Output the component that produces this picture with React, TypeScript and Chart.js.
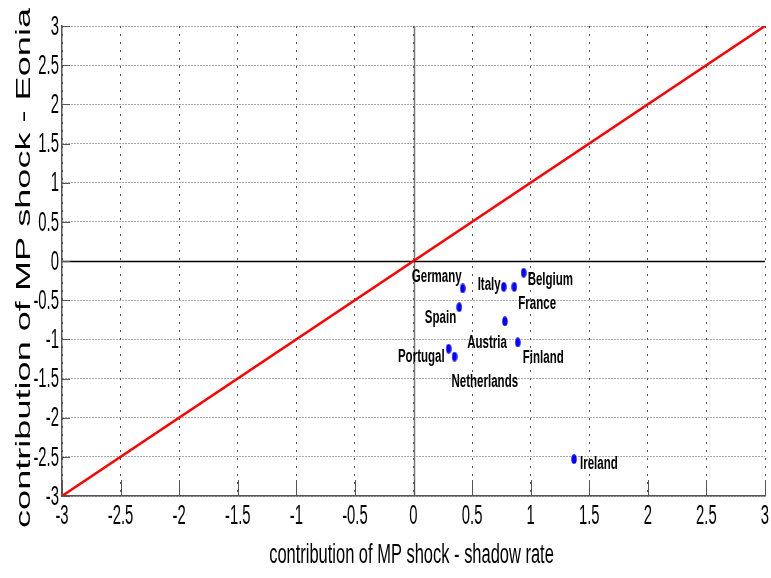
import { useEffect, useRef } from "react";
import { Chart, registerables } from "chart.js";

Chart.register(...registerables);

// ---- data ----
const countries = ["Germany", "Italy", "France", "Belgium", "Spain", "Austria", "Finland", "Portugal", "Netherlands", "Ireland"];
const shadowRate = [0.42, 0.77, 0.86, 0.94, 0.39, 0.78, 0.89, 0.3, 0.35, 1.37];
const eonia = [-0.35, -0.33, -0.33, -0.15, -0.59, -0.77, -1.04, -1.12, -1.22, -2.53];
const tickValues = [-3, -2.5, -2, -1.5, -1, -0.5, 0, 0.5, 1, 1.5, 2, 2.5, 3];
const tickLabels = ["-3", "-2.5", "-2", "-1.5", "-1", "-0.5", "0", "0.5", "1", "1.5", "2", "2.5", "3"];
const refLine = [-3, 3];
const xTitle = "contribution of MP shock - shadow rate";
const yTitle = "contribution of MP shock - Eonia";

// ---- label placement (pixel offsets from the point; layout only) ----
const labelPlacement: Record<string, [CanvasTextAlign, number, number]> = {
  Germany: ["right", -1, -6],
  Italy: ["right", -3, 3],
  France: ["left", 4, 22],
  Belgium: ["left", 4, 12],
  Spain: ["right", -3, 16],
  Austria: ["right", 2, 27],
  Finland: ["left", 5, 21],
  Portugal: ["right", -4, 13],
  Netherlands: ["left", -3, 30],
  Ireland: ["left", 6, 10],
};

const FONT = "'Liberation Sans', Arial, Helvetica, sans-serif";
const AXIS_COLOR = "#555555";

function makeDot(): HTMLCanvasElement {
  const c = document.createElement("canvas");
  c.width = 6;
  c.height = 10;
  const g = c.getContext("2d")!;
  g.fillStyle = "#0000ff";
  g.beginPath();
  g.ellipse(3, 5, 2.7, 4.7, 0, 0, Math.PI * 2);
  g.fill();
  return c;
}

function drawScaledText(
  ctx: CanvasRenderingContext2D,
  text: string,
  x: number,
  y: number,
  sx: number,
  align: CanvasTextAlign,
  baseline: CanvasTextBaseline
) {
  ctx.save();
  ctx.translate(x, y);
  ctx.scale(sx, 1);
  ctx.textAlign = align;
  ctx.textBaseline = baseline;
  ctx.fillText(text, 0, 0);
  ctx.restore();
}

const decorPlugin = {
  id: "decor",
  beforeDatasetsDraw(chart: any) {
    const { ctx, chartArea, scales } = chart;
    const xs = scales.x;
    const ys = scales.y;
    ctx.save();
    // zero lines
    const x0 = Math.round(xs.getPixelForValue(0)) + 0.5;
    const y0 = Math.round(ys.getPixelForValue(0)) + 0.5;
    ctx.lineWidth = 1.5;
    ctx.strokeStyle = "#777777";
    ctx.beginPath();
    ctx.moveTo(x0, chartArea.top);
    ctx.lineTo(x0, chartArea.bottom);
    ctx.stroke();
    ctx.strokeStyle = "#000000";
    ctx.beginPath();
    ctx.moveTo(chartArea.left, y0);
    ctx.lineTo(chartArea.right, y0);
    ctx.stroke();
    // tick marks (inward)
    ctx.strokeStyle = AXIS_COLOR;
    ctx.lineWidth = 1;
    tickValues.forEach((v) => {
      const px = Math.round(xs.getPixelForValue(v)) + 0.5;
      ctx.beginPath();
      ctx.moveTo(px, chartArea.bottom);
      ctx.lineTo(px, chartArea.bottom - 16);
      ctx.stroke();
      const py = Math.round(ys.getPixelForValue(v)) + 0.5;
      ctx.beginPath();
      ctx.moveTo(chartArea.left, py);
      ctx.lineTo(chartArea.left + 8, py);
      ctx.stroke();
    });
    ctx.restore();
  },
  afterDatasetsDraw(chart: any) {
    const { ctx, chartArea, scales } = chart;
    const xs = scales.x;
    const ys = scales.y;
    ctx.save();
    ctx.fillStyle = "#000000";
    // point labels
    ctx.font = `bold 18px ${FONT}`;
    countries.forEach((name, i) => {
      const px = xs.getPixelForValue(shadowRate[i]);
      const py = ys.getPixelForValue(eonia[i]);
      const [align, dx, dy] = labelPlacement[name];
      drawScaledText(ctx, name, px + dx, py + dy, 0.64, align, "alphabetic");
    });
    // tick labels
    ctx.font = `28px ${FONT}`;
    tickValues.forEach((v, i) => {
      const px = xs.getPixelForValue(v);
      drawScaledText(ctx, tickLabels[i], px, chartArea.bottom + 20, 0.53, "center", "middle");
      const py = ys.getPixelForValue(v);
      drawScaledText(ctx, tickLabels[i], chartArea.left - 3, py + 1, 0.53, "right", "middle");
    });
    // x title
    ctx.font = `27px ${FONT}`;
    drawScaledText(ctx, xTitle, (chartArea.left + chartArea.right) / 2 - 2, 563, 0.61, "center", "alphabetic");
    // y title (rotated, stretched along its length)
    ctx.font = `21px ${FONT}`;
    ctx.save();
    ctx.translate(30, (chartArea.top + chartArea.bottom) / 2 + 7);
    ctx.rotate(-Math.PI / 2);
    ctx.scale(1.72, 1);
    ctx.textAlign = "center";
    ctx.textBaseline = "alphabetic";
    ctx.fillText(yTitle, 0, 0);
    ctx.restore();
    ctx.restore();
  },
};

export default function App() {
  const canvasRef = useRef<HTMLCanvasElement | null>(null);

  useEffect(() => {
    document.body.style.margin = "0";
    const canvas = canvasRef.current!;
    const dot = makeDot();
    const chart = new Chart(canvas, {
      type: "scatter",
      data: {
        datasets: [
          {
            type: "line",
            label: "45-degree line",
            data: refLine.map((v) => ({ x: v, y: v })),
            borderColor: "#ff0000",
            borderWidth: 2.5,
            pointRadius: 0,
            fill: false,
            tension: 0,
          } as any,
          {
            type: "scatter",
            label: "countries",
            data: countries.map((_, i) => ({ x: shadowRate[i], y: eonia[i] })),
            pointStyle: dot as any,
            pointRadius: 4,
            backgroundColor: "#0000ff",
            borderColor: "#0000ff",
          } as any,
        ],
      },
      options: {
        responsive: false,
        animation: false,
        devicePixelRatio: 1,
        layout: { padding: { left: 62, right: 6, top: 26, bottom: 82 } },
        plugins: { legend: { display: false }, tooltip: { enabled: false } },
        scales: {
          x: {
            type: "linear",
            min: -3,
            max: 3,
            afterBuildTicks: (s: any) => {
              s.ticks = tickValues.map((v) => ({ value: v }));
            },
            ticks: { display: false },
            grid: { color: "#555555", lineWidth: 1, drawTicks: false },
            border: { display: true, color: AXIS_COLOR, width: 1.5, dash: [2, 6] },
          },
          y: {
            type: "linear",
            min: -3,
            max: 3,
            afterBuildTicks: (s: any) => {
              s.ticks = tickValues.map((v) => ({ value: v }));
            },
            ticks: { display: false },
            grid: { color: "#555555", lineWidth: 1, drawTicks: false },
            border: { display: true, color: AXIS_COLOR, width: 1.5, dash: [1, 2] },
          },
        },
      } as any,
      plugins: [decorPlugin],
    });
    return () => chart.destroy();
  }, []);

  return (
    <div style={{ width: 771, height: 578 }}>
      <canvas ref={canvasRef} width={771} height={578} style={{ display: "block" }} />
    </div>
  );
}
